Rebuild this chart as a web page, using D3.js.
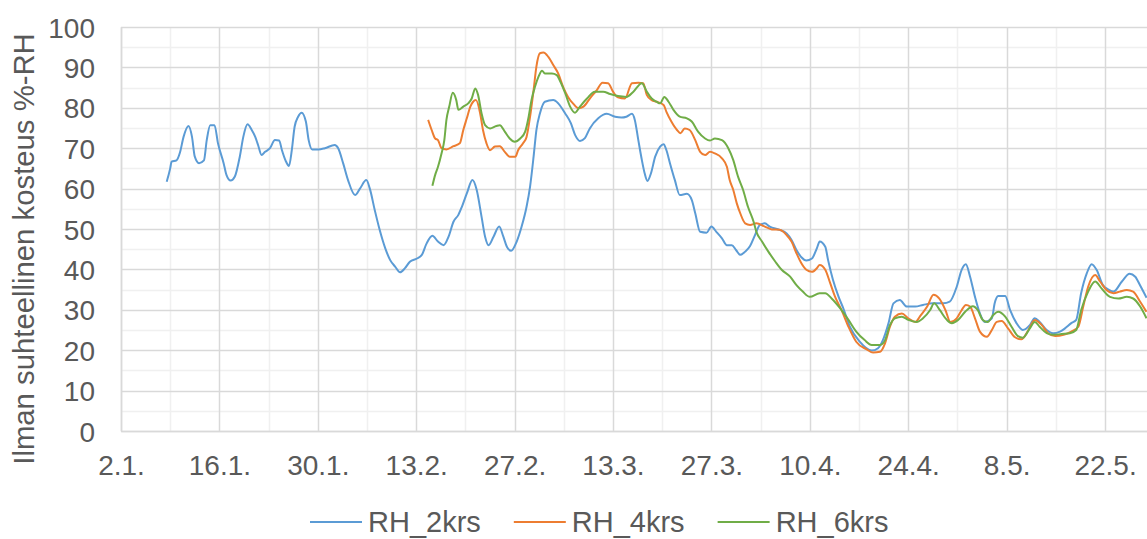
<!DOCTYPE html>
<html>
<head>
<meta charset="utf-8">
<script src="https://cdn.jsdelivr.net/npm/d3@7"></script>
<style>
  html, body { margin: 0; padding: 0; background: #fff; }
  svg { display: block; font-family: "Liberation Sans", Arial, sans-serif; }
</style>
</head>
<body>
<svg id="chart" width="1147" height="539"></svg>
<script>
// Relative humidity, days counted from 2.1.
const seriesNames = ["RH_2krs", "RH_4krs", "RH_6krs"];
const seriesColors = ["#5B9BD5", "#ED7D31", "#70AD47"];

const rh2Days = [6.5,7.0,7.2,7.9,8.4,8.9,9.6,10.1,10.5,11.1,11.8,12.2,12.7,13.3,13.8,14.6,15.0,15.6,16.2,16.9,17.4,18.0,18.6,19.1,19.5,20.0,20.5,21.2,21.9,22.5,22.9,23.4,23.9,24.3,24.7,25.2,25.7,26.3,26.7,27.2,28.1,29.0,30.4,30.9,31.6,32.3,33.3,34.0,34.9,35.4,36.1,36.8,37.6,38.3,39.0,39.7,40.4,41.1,42.1,42.8,43.5,44.3,45.1,45.9,46.6,47.3,48.0,48.5,49.2,50.0,50.6,51.3,51.8,52.3,53.0,53.8,54.4,54.9,55.5,56.3,57.0,57.7,58.2,58.7,59.1,59.6,60.3,61.5,62.2,63.2,64.0,64.6,65.3,66.0,66.7,67.9,69.1,70.3,71.2,71.9,72.7,73.1,73.6,74.1,74.5,74.9,75.4,76.0,76.7,77.2,77.6,78.1,78.8,79.5,80.5,81.2,81.7,82.4,83.3,84.0,84.7,85.5,86.2,86.9,87.5,88.1,88.8,89.5,90.2,90.9,91.6,92.3,93.7,94.7,95.4,96.1,96.8,97.5,98.3,99.0,99.4,100.2,100.6,101.3,102.1,102.8,103.7,105.1,106.8,107.7,108.4,109.2,109.9,110.8,111.8,113.0,114.1,115.5,117.0,117.9,118.9,119.6,120.2,120.8,121.5,122.2,122.9,123.9,124.3,124.8,125.8,126.5,127.4,128.3,129.3,130.0,130.7,131.7,132.6,133.6,134.3,135.2,135.9,136.6,137.4,138.1,138.8,139.7,140.5,141.2,142.4,143.5,144.3,145.0,145.9];
const rh2Values = [61.7,65,66.7,67,69,72.8,75.5,72.8,67.9,66.3,67,72,75.7,75.7,71.2,66.3,63.4,62,63,67.9,72.8,75.9,74.5,72.8,70.8,68.3,69.1,70,72,71.9,69.5,67,65.6,69.5,75.3,77.8,78.8,76.6,72,69.7,69.7,70,70.8,70,66.3,62.1,58.4,60,62.1,60,54.7,49.8,45.2,42.3,40.7,39.3,40.3,41.9,42.7,43.6,46.5,48.3,46.9,46,48.1,51.8,53.5,55.5,58.8,62.1,59.7,53,48.1,46,48.1,50.6,48.1,45.6,44.6,46.9,50.6,55.5,60.5,67.9,74.5,78.6,81.5,81.9,81.1,78.6,76.2,73.3,71.8,72.5,74.9,77.4,78.5,77.8,77.6,77.8,78.5,77,72,67.1,63.8,61.9,63.8,67.9,70.4,71,69.5,66.3,62.1,58.4,58.7,57.2,53.9,49.3,49.1,50.6,49.3,47.7,46,46,44.8,43.6,44.4,45.8,48.5,51,51.4,50.6,49.8,48.9,47.3,44.8,43,42.2,42.7,45.2,46.9,45.6,42.3,37.4,33.2,30.2,25.8,22.1,19.9,20.5,22.5,26.7,31.6,32.4,30.8,30.8,31.2,31.6,31.6,32,35.7,39.9,41.3,38.2,33.2,29.1,27,27.9,31.6,33.4,33.4,29.9,26.7,25,26.2,27.9,27,25,24.2,24.6,25.4,26.7,27.5,34.1,39,41.3,39.9,36.1,35,34.5,37,38.9,38.2,36,33];

const rh4Days = [43.7,44.2,44.7,45.1,45.6,46.3,47.3,48.2,48.7,49.2,49.7,50.1,50.5,51.1,51.5,52.0,52.5,53.2,53.9,54.6,55.3,56.1,56.5,57.2,57.7,58.2,58.7,59.1,59.6,60.1,60.8,61.5,62.2,62.9,63.6,64.3,65.1,65.8,66.7,67.7,68.5,69.3,70.0,70.7,71.7,72.7,73.6,74.3,74.8,75.5,76.2,77.2,77.6,78.3,79.1,79.6,80.2,80.9,81.7,82.4,83.1,83.8,84.5,85.5,86.2,86.6,87.1,87.6,88.1,88.8,89.5,90.4,91.6,92.6,93.7,94.7,95.4,96.1,96.8,97.5,98.3,99.0,99.4,100.2,100.9,101.6,102.5,103.5,104.6,106.1,107.0,108.0,108.7,109.4,110.1,111.1,112.0,113.0,113.8,114.7,115.6,116.4,117.3,118.0,118.9,119.6,120.2,120.8,121.5,122.2,123.2,123.9,124.6,125.3,126.2,127.2,128.1,129.1,130.0,131.0,131.9,132.9,134.1,135.2,136.2,136.9,137.6,138.6,139.3,140.2,141.2,142.1,143.1,144.0,145.0,145.9];
const rh4Values = [77,74.5,72.4,72,70,69.7,70.5,71.2,74.5,77.4,80.3,81.5,81.9,78.6,74.5,71.2,69.5,70.4,70.5,69.1,67.9,67.9,69.5,71.2,72.8,77.8,84.4,90.2,93.5,93.7,92.6,90.6,88.5,85.2,82.7,81.1,79.9,80.3,82.3,84.4,86.2,86.1,84,82.6,82.3,86.1,86.2,86.1,83.2,81.9,81.5,80.7,79,76.6,74.5,73.7,74.9,74.5,72,69.1,68.3,69.1,68.7,67.5,65.4,62.1,59.7,56.4,53.9,51.4,51,51.4,50.6,49.9,49.8,48.5,46.9,44,41.5,39.9,39.4,40.3,41.1,39.9,36.6,33.2,30,25.8,22.1,20.2,19.4,19.6,21.7,25.8,28.3,29.1,27.9,27,28.7,30.8,33.7,32.8,29.9,27,27.9,29.9,31.2,30.8,27.9,24.6,23.3,25,27,27.2,25.4,23.2,22.7,25,27.5,26.2,24.2,23.5,23.8,24.6,25.8,30.8,35.7,38.6,37,34.9,34.1,34.5,34.9,34.5,32,29.5];

const rh6Days = [44.3,44.7,45.1,45.6,46.0,46.3,46.7,47.2,47.7,48.0,48.7,49.4,49.9,50.4,50.8,51.3,51.8,52.5,53.4,53.9,54.6,55.3,56.0,56.8,57.5,58.0,58.4,58.9,59.4,59.9,60.3,61.3,62.0,62.5,63.2,63.9,64.6,65.3,66.3,67.4,68.6,69.6,70.7,71.9,72.9,74.1,74.8,75.5,76.2,76.7,77.3,77.9,78.6,79.5,80.5,81.2,82.1,83.1,83.8,84.5,85.5,86.4,87.1,87.8,88.5,89.2,90.0,90.4,91.2,92.1,93.1,94.0,95.2,96.1,97.0,98.0,99.4,100.2,101.1,102.3,103.5,104.6,105.8,106.8,108.0,108.7,109.4,110.1,111.1,112.0,113.2,114.1,115.1,115.7,116.5,117.5,118.2,119.1,120.1,121.2,121.9,122.6,123.3,124.1,124.8,125.8,126.7,127.6,128.3,129.3,130.0,130.7,131.7,132.6,133.8,135.0,135.9,136.6,137.6,138.6,139.5,140.7,141.9,143.1,144.0,145.0,145.9];
const rh6Values = [60.7,63.4,65.4,68.7,72,77,80.3,83.7,81.9,79.5,80.3,81.1,82.3,84.8,83.2,78.6,75.7,74.9,75.5,75.7,74.1,72.4,71.6,72.4,74.1,77.8,81.9,85.2,87.7,89.2,88.5,88.5,88.1,86.5,83.6,80.3,78.8,80.3,82.3,84,84,83.4,82.9,82.7,84,86.1,84,82.3,81.5,81.1,82.7,81.5,79.5,77.8,77.4,76.6,74.1,72.4,71.9,72.4,72,70,67.1,62.9,59.7,55.5,51.8,49.3,46.9,44.4,41.9,39.9,38.2,36.1,34.5,33.2,34.1,34.1,32.8,30.4,27.5,24.6,22.5,21.3,21.3,22.5,26.2,27.9,28.3,27.5,27,27.9,29.9,31.6,29.9,27.5,26.7,27.5,29.5,30.9,29.9,27.5,27,28.7,29.5,28.3,25.8,23.5,23.1,25.4,27,25.8,24.2,23.8,24,24.2,25,29.9,34.5,37,35.3,33.2,32.8,33.2,32.8,30.8,27.9];

const yTicks = [0, 10, 20, 30, 40, 50, 60, 70, 80, 90, 100];
const tickStepDays = 14;
const yTitle = "Ilman suhteellinen kosteus %-RH";

const DAY = 864e5;
const startDate = new Date(Date.UTC(2019, 0, 2));
const toDate = d => new Date(startDate.getTime() + d * DAY);

const svg = d3.select("#chart");
const plot = { left: 121, right: 1147.2, top: 27, bottom: 431 };
const textColor = "#595959";

const x = d3.scaleUtc()
  .domain([startDate, toDate(146)])
  .range([plot.left, plot.right]);
const y = d3.scaleLinear().domain([0, 100]).range([plot.bottom, plot.top]);

const majorX = d3.range(0, 141, tickStepDays).map(toDate);
const minorX = d3.range(tickStepDays / 2, 146, tickStepDays).map(toDate);
const minorY = d3.range(5, 100, 10);

const px = v => Math.round(v) + 0.5;
const grid = svg.append("g");
// lighter half-step grid
grid.selectAll(".vminor").data(minorX).join("line")
  .attr("x1", d => px(x(d))).attr("x2", d => px(x(d)))
  .attr("y1", plot.top).attr("y2", plot.bottom)
  .attr("stroke", "#f0f0f0").attr("stroke-width", 1.5);
grid.selectAll(".hminor").data(minorY).join("line")
  .attr("x1", plot.left).attr("x2", plot.right)
  .attr("y1", d => px(y(d))).attr("y2", d => px(y(d)))
  .attr("stroke", "#f0f0f0").attr("stroke-width", 1.5);
// main grid
grid.selectAll(".vmajor").data(majorX).join("line")
  .attr("x1", d => px(x(d))).attr("x2", d => px(x(d)))
  .attr("y1", plot.top).attr("y2", plot.bottom)
  .attr("stroke", "#d9d9d9").attr("stroke-width", 1.5);
grid.selectAll(".hmajor").data(yTicks).join("line")
  .attr("x1", plot.left).attr("x2", plot.right)
  .attr("y1", d => px(y(d))).attr("y2", d => px(y(d)))
  .attr("stroke", "#d9d9d9").attr("stroke-width", 1.5);

// axes
const xAxis = d3.axisBottom(x).tickValues(majorX).tickFormat(d3.utcFormat("%-d.%-m.")).tickSize(0);
const yAxis = d3.axisLeft(y).tickValues(yTicks).tickSize(0);

const gx = svg.append("g").attr("transform", `translate(0,${plot.bottom})`).call(xAxis);
const gy = svg.append("g").attr("transform", `translate(${plot.left},0)`).call(yAxis);
[gx, gy].forEach(g => {
  g.attr("font-size", null).attr("font-family", null);
  g.select(".domain").attr("stroke", "#d9d9d9").attr("stroke-width", 1.5);
  g.selectAll("text").attr("fill", textColor).style("font-size", "28px");
});
gx.selectAll("text").attr("y", 44).attr("dy", 0).attr("text-anchor", "middle");
gy.selectAll("text").attr("x", -26).attr("dy", "0.36em").attr("text-anchor", "end");

// y title
svg.append("text")
  .attr("transform", `translate(34,249) rotate(-90)`)
  .attr("text-anchor", "middle")
  .attr("fill", textColor)
  .style("font-size", "29.3px")
  .text(yTitle);

// series
const series = [
  { days: rh2Days, values: rh2Values },
  { days: rh4Days, values: rh4Values },
  { days: rh6Days, values: rh6Values }
];
const line = d3.line()
  .x(d => x(toDate(d[0])))
  .y(d => y(d[1]))
  .curve(d3.curveMonotoneX);

svg.append("defs").append("clipPath").attr("id", "plotclip")
  .append("rect").attr("x", plot.left).attr("y", 0)
  .attr("width", plot.right - plot.left).attr("height", plot.bottom);

svg.append("g").attr("clip-path", "url(#plotclip)")
  .selectAll("path").data(series).join("path")
  .attr("d", s => line(d3.zip(s.days, s.values)))
  .attr("fill", "none")
  .attr("stroke", (s, i) => seriesColors[i])
  .attr("stroke-width", 2)
  .attr("stroke-linejoin", "round");

// legend
const legend = svg.append("g").attr("transform", "translate(310,522)");
let lx = 0;
seriesNames.forEach((name, i) => {
  const item = legend.append("g").attr("transform", `translate(${lx},0)`);
  item.append("line").attr("x1", 0).attr("x2", 52).attr("y1", 0).attr("y2", 0)
    .attr("stroke", seriesColors[i]).attr("stroke-width", 2);
  const t = item.append("text").attr("x", 58).attr("y", 10)
    .attr("fill", textColor).style("font-size", "29px").text(name);
  lx += 58 + t.node().getComputedTextLength() + 33;
});
</script>
</body>
</html>
